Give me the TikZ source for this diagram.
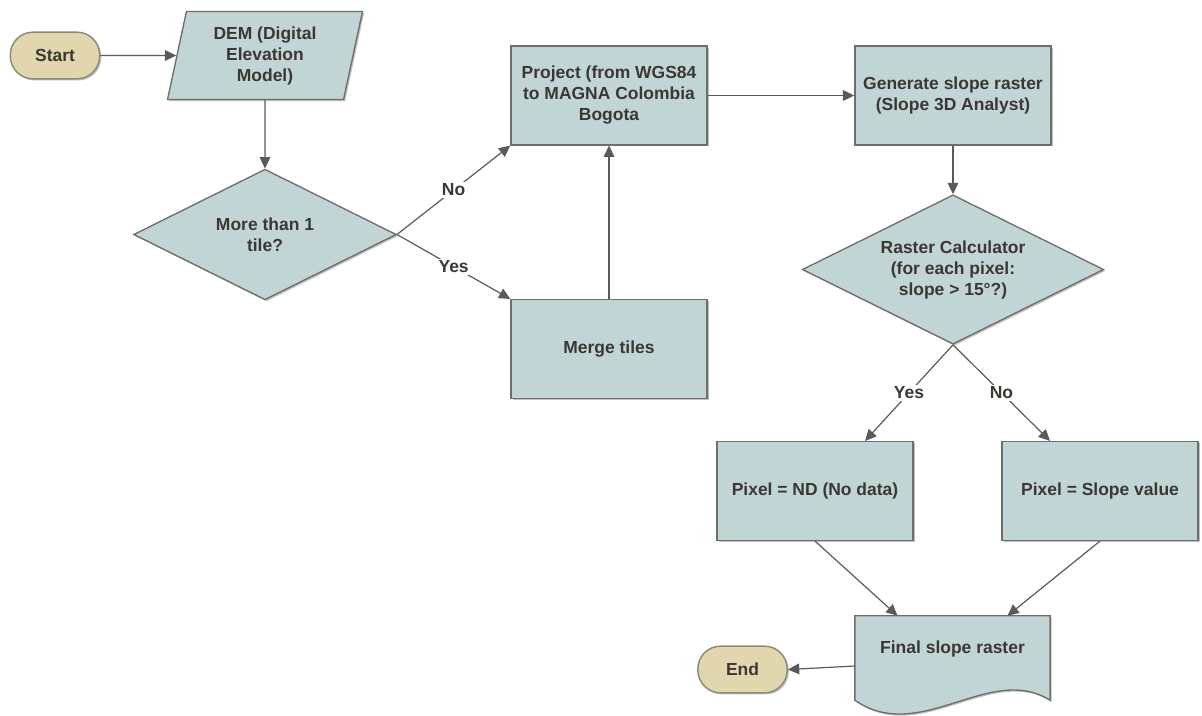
\documentclass[tikz,border=0pt]{standalone}
\usepackage{fontspec}
\setmainfont{Liberation Sans}
\usetikzlibrary{shapes.geometric,arrows.meta,shadows,calc}
\definecolor{boxfill}{HTML}{C1D5D4}
\definecolor{boxline}{HTML}{6E6E6E}
\definecolor{termfill}{HTML}{E2D6AE}
\definecolor{termline}{HTML}{8E8A78}
\definecolor{txt}{HTML}{3A3833}
\definecolor{arr}{HTML}{5A5A5A}
\begin{document}
\begin{tikzpicture}[x=0.75pt,y=-0.75pt,
  font=\fontsize{13.1}{15.75}\selectfont\bfseries,
  every node/.style={text=txt},
  shad/.style={drop shadow={shadow xshift=1.2pt,shadow yshift=-1.2pt,opacity=0.25,fill=black}},
  procbox/.style={rectangle,draw=boxline,line width=1.1pt,fill=boxfill,shad,minimum width=147pt,minimum height=74pt,inner sep=0pt,align=center},
  termbox/.style={rectangle,rounded corners=17pt,draw=termline,line width=1.1pt,fill=termfill,shad,minimum width=67pt,minimum height=35pt,inner sep=0pt},
  decbox/.style={diamond,shape aspect=2,draw=boxline,line width=1pt,fill=boxfill,shad,inner sep=0pt,align=center},
  iobox/.style={trapezium,trapezium left angle=78,trapezium right angle=102,trapezium stretches=true,draw=boxline,line width=1pt,fill=boxfill,shad,minimum width=147pt,minimum height=66pt,inner sep=0pt,align=center},
  conn/.style={draw=arr,line width=0.9pt,-{Triangle[length=8.5pt,width=8pt]}},
  lbl/.style={fill=white,inner sep=1.5pt}
]
\useasboundingbox (0,0) rectangle (1202,715);

\node[termbox] (start) at (55,55.5) {Start};
\node[iobox] (dem) at (265,55.5) {DEM (Digital\\Elevation\\Model)};
\node[decbox,minimum width=197pt,minimum height=98pt] (tile) at (265,234.5) {More than 1\\tile?};
\node[procbox] (proj) at (609,95.5) {Project (from WGS84\\to MAGNA Colombia\\Bogota};
\node[procbox] (merge) at (609,349) {Merge tiles};
\node[procbox] (gen) at (953,95.5) {Generate slope raster\\(Slope 3D Analyst)};
\node[decbox,minimum width=226pt,minimum height=112pt] (calc) at (953,269.5) {Raster Calculator\\(for each pixel:\\slope > 15°?)};
\node[procbox] (nd) at (815,491) {Pixel = ND (No data)};
\node[procbox] (sv) at (1100,491) {Pixel = Slope value};
\node[termbox] (end) at (742.5,669.5) {End};

% document shape
\node[rectangle,minimum width=146pt,minimum height=63pt,inner sep=0pt] (final) at (952.5,658) {};
\draw[draw=boxline,line width=1pt,fill=boxfill,shad]
  (final.north west) -- (final.north east) -- (final.south east)
  .. controls +(-60,-38) and +(65,45) .. (final.south west) -- cycle;
\node (finaltxt) at (952.5,649) {Final slope raster};

% connectors
\draw[conn] (start.east) -- (dem.west);
\draw[conn] (dem.south) -- (tile.north);
\draw[conn] (tile.east) -- node[lbl] {No} (proj.south west);
\draw[conn] (tile.east) -- node[lbl] {Yes} (merge.north west);
\draw[conn] (merge.north) -- (proj.south);
\draw[conn] (proj.east) -- (gen.west);
\draw[conn] (gen.south) -- (calc.north);
\draw[conn] (calc.south) -- node[lbl] {Yes} ($(nd.north)+(50,0)$);
\draw[conn] (calc.south) -- node[lbl] {No} ($(sv.north)+(-50,0)$);
\draw[conn] (nd.south) -- ($(final.north)+(-55,0)$);
\draw[conn] (sv.south) -- ($(final.north)+(55,0)$);
\draw[conn] ($(final.west)+(0,8)$) -- (end.east);
\end{tikzpicture}
\end{document}
